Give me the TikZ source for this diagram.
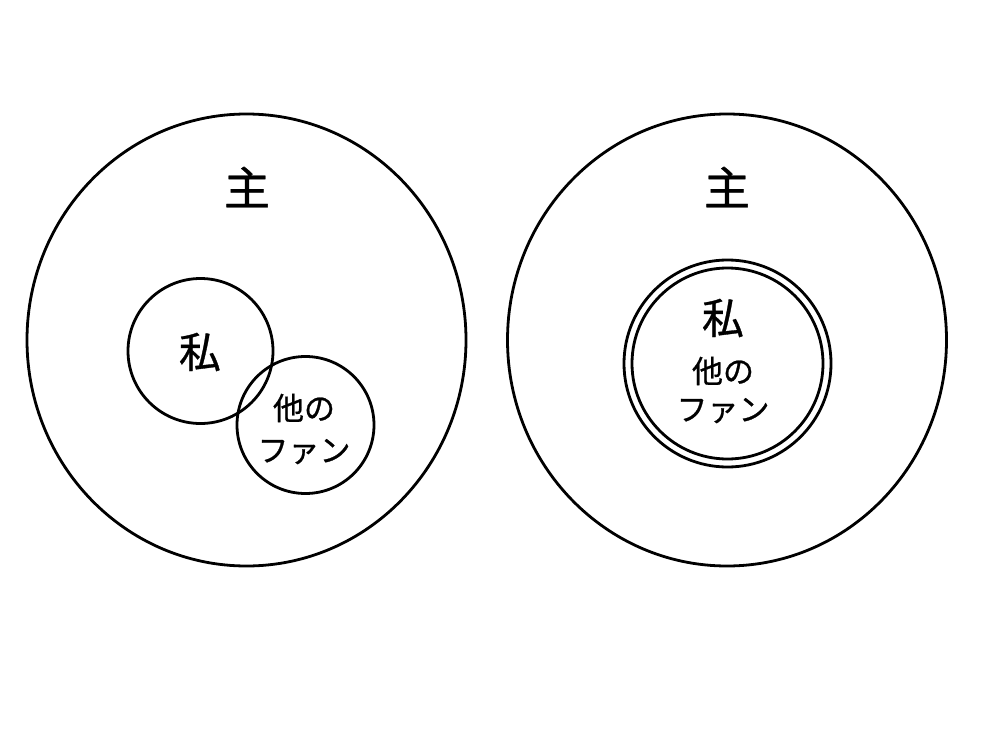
\documentclass[tikz,border=0pt]{standalone}
\usepackage{fontspec}
\newfontfamily\jp[FakeBold=0.8]{Noto Sans CJK JP}
\begin{document}
\begin{tikzpicture}[x=1pt,y=-1pt,
  ring/.style={draw=black,line width=2.8pt},
  lbl/.style={font=\jp,inner sep=0pt,align=center}]
\useasboundingbox (0,0) rectangle (1000,733);
\fill[white] (0,0) rectangle (1000,733);
% left
\draw[ring] (246.5,340) ellipse [x radius=219.5, y radius=226];
\node[ring,circle,minimum size=145pt,inner sep=0pt] (me) at (200.5,351) {};
\node[ring,circle,minimum size=137pt,inner sep=0pt] (fans) at (305.5,425) {};
\node[lbl,font=\jp\fontsize{46}{46}\selectfont] (lordL) at (247,187) {主};
\node[lbl,font=\jp\fontsize{42}{42}\selectfont] (meL) at (200,352) {私};
\node[lbl,font=\jp\fontsize{31}{42}\selectfont] (fansL) at (304,429) {他の\\ファン};
% right
\draw[ring] (727,340) ellipse [x radius=219.5, y radius=226];
\node[ring,circle,minimum size=207pt,inner sep=0pt] (outerR) at (727.5,363.5) {};
\node[ring,circle,minimum size=191pt,inner sep=0pt] (innerR) at (727.5,363.5) {};
\node[lbl,font=\jp\fontsize{42}{42}\selectfont] (meR) at (723,318) {私};
\node[lbl,font=\jp\fontsize{31}{38}\selectfont] (fansR) at (723,390) {他の\\ファン};
\node[lbl,font=\jp\fontsize{46}{46}\selectfont] (lordR) at (727,187) {主};
\end{tikzpicture}
\end{document}
